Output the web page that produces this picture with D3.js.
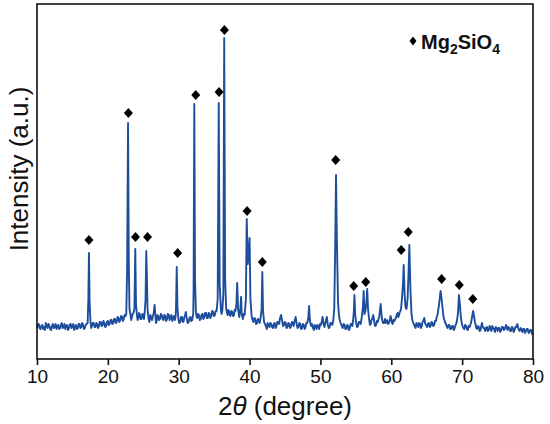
<!DOCTYPE html>
<html><head><meta charset="utf-8">
<script src="https://cdn.jsdelivr.net/npm/d3@7"></script>
<style>body{margin:0;background:#fff}svg{display:block}text{font-family:"Liberation Sans",Arial,sans-serif}</style>
</head><body><svg id="c" width="550" height="424"></svg>
<script>
// XRD pattern: [2theta (deg), intensity (a.u.)]
const pattern = [
[10.00,31],[10.12,34],[10.25,35],[10.37,31],[10.5,30],[10.62,33],[10.75,34],[10.87,30],[11.0,32],[11.12,29],[11.25,36],[11.37,33],[11.5,31],[11.62,35],[11.75,33],[11.87,30],[12.0,29],[12.12,33],[12.25,35],[12.37,31],[12.5,32],[12.62,35],[12.75,30],[12.87,33],[13.0,34],[13.12,30],[13.25,31],[13.37,34],[13.5,36],[13.62,31],[13.75,32],[13.87,35],[14.0,30],[14.12,33],[14.25,34],[14.37,29],[14.5,31],[14.62,34],[14.75,35],[14.87,31],[15.0,32],[15.12,35],[15.25,29],[15.37,32],[15.5,34],[15.62,30],[15.75,31],[15.87,35],[16.0,35],[16.12,31],[16.25,32],[16.37,36],[16.5,34],[16.62,30],[16.75,31],[16.87,34],[17.0,35],
[17.15,36],[17.25,60],[17.33,106],[17.42,58],[17.55,37],
[17.65,31],[17.75,33],[17.87,36],[18.0,36],[18.12,32],[18.25,32],[18.37,36],[18.5,35],[18.62,31],[18.75,33],[18.87,37],[19.0,37],[19.12,33],[19.25,34],[19.37,38],[19.5,36],[19.62,32],[19.75,33],[19.87,37],[20.0,38],[20.12,34],[20.25,35],[20.37,39],[20.5,39],[20.62,35],[20.75,36],[20.87,40],[21.0,40],[21.12,36],[21.25,37],[21.37,42],[21.5,41],[21.62,37],[21.75,39],[21.87,43],[22.0,42],[22.12,38],[22.25,40],[22.37,44],[22.5,43],
[22.6,45],[22.72,90],[22.85,236],[22.95,100],[23.05,50],[23.2,44],
[23.3,39],[23.4,42],[23.5,45],[23.6,46],
[23.75,50],[23.87,110],[23.97,55],[24.1,44],
[24.2,39],[24.3,41],[24.4,46],[24.5,45],[24.62,40],[24.75,40],[24.87,45],[25.0,44],[25.1,40],[25.2,47],
[25.32,60],[25.42,108],[25.5,85],[25.6,50],[25.75,40],
[25.87,37],[26.0,44],[26.12,41],[26.25,39],[26.35,43],[26.45,45],[26.6,54],[26.72,42],[26.8,36],[26.9,38],[27.0,44],[27.1,43],[27.22,39],[27.35,40],[27.47,45],[27.6,44],[27.72,40],[27.85,39],[27.97,44],[28.1,43],[28.22,38],[28.35,40],[28.47,45],[28.6,44],[28.72,39],[28.85,41],[28.97,44],[29.1,38],[29.22,41],[29.35,43],[29.45,39],[29.55,42],
[29.62,50],[29.72,92],[29.82,52],[29.95,40],
[30.07,36],[30.2,37],[30.32,42],[30.45,42],[30.57,37],[30.7,38],[30.8,42],[30.9,44],[31.0,47],[31.15,40],[31.27,36],[31.4,37],[31.52,41],[31.65,42],[31.77,38],[31.9,39],[32.05,45],
[32.1,70],[32.2,255],[32.3,80],[32.42,48],
[32.5,43],[32.6,41],[32.72,45],[32.85,44],[32.97,39],[33.1,40],[33.22,44],[33.35,45],[33.47,40],[33.6,42],[33.72,46],[33.85,46],[33.97,41],[34.1,41],[34.22,46],[34.35,45],[34.47,41],[34.6,43],[34.72,48],[34.85,47],[34.97,43],[35.1,44],[35.22,48],[35.35,48],
[35.5,60],[35.65,256],[35.78,75],[35.95,50],[36.05,45],[36.15,48],
[36.3,65],[36.42,321],[36.55,80],[36.7,50],
[36.8,47],[36.9,44],[37.0,49],[37.1,48],[37.2,44],[37.3,43],[37.42,48],[37.55,47],[37.67,43],[37.8,44],[37.9,49],[38.0,48],
[38.15,55],[38.25,76],[38.38,50],[38.55,42],
[38.7,50],[38.8,62],[38.9,45],[39.05,40],[39.17,45],[39.3,44],
[39.48,60],[39.6,140],[39.75,95],
[39.92,110],[40.0,121],[40.12,60],[40.3,42],
[40.42,39],[40.55,37],[40.67,41],[40.8,40],[40.92,35],[41.05,36],[41.17,40],[41.3,39],[41.42,36],[41.55,41],
[41.7,50],[41.8,87],[41.9,48],[42.05,37],
[42.17,35],[42.3,33],[42.42,30],[42.55,36],[42.67,34],[42.8,32],[42.92,36],[43.05,35],[43.17,32],[43.3,31],[43.42,35],[43.55,36],[43.67,31],[43.8,33],[43.92,37],[44.05,37],[44.17,35],[44.3,41],[44.45,44],[44.6,38],[44.72,33],[44.85,34],[44.97,37],[45.1,36],[45.22,31],[45.35,32],[45.47,36],[45.6,35],[45.72,31],[45.85,33],[45.97,37],[46.1,36],[46.22,33],[46.35,38],[46.5,42],[46.65,35],[46.77,31],[46.9,32],[47.02,36],[47.15,35],[47.27,30],[47.4,31],[47.52,35],[47.65,34],[47.77,30],[47.9,32],[48.02,36],[48.15,36],
[48.3,42],[48.4,53],[48.5,40],[48.6,35],[48.7,33],
[48.82,35],[48.95,31],[49.07,29],[49.2,34],[49.32,33],[49.45,30],[49.57,34],[49.7,33],[49.82,30],[49.95,35],[50.07,34],[50.2,38],[50.3,42],[50.45,35],[50.57,32],[50.7,36],[50.8,39],[50.9,42],[51.05,34],[51.17,31],[51.3,32],[51.42,36],[51.55,36],[51.67,34],[51.8,38],
[51.95,50],[52.08,110],[52.2,184],[52.32,120],[52.48,58],[52.6,45],[52.7,40],[52.8,37],[52.9,35],
[53.02,33],[53.15,31],[53.27,35],[53.4,34],[53.52,30],[53.65,30],[53.77,34],[53.9,33],[54.02,29],[54.15,31],[54.27,35],[54.4,35],[54.5,33],[54.6,38],
[54.72,48],[54.8,64],[54.9,45],[55.05,36],
[55.17,32],[55.3,33],[55.42,37],[55.55,37],[55.67,35],[55.8,40],
[56.0,52],[56.1,68],[56.22,45],[56.35,48],
[56.5,58],[56.6,70],[56.72,50],[56.9,38],
[57.0,34],[57.1,35],[57.2,39],[57.3,40],[57.45,44],[57.6,37],[57.72,33],[57.85,34],[57.97,38],[58.1,37],[58.2,40],[58.3,42],
[58.5,55],[58.65,42],[58.75,38],[58.85,36],
[58.97,36],[59.1,40],[59.2,36],[59.3,37],[59.42,39],[59.55,35],[59.67,36],[59.8,39],[59.9,43],[60.0,40],[60.1,36],[60.2,35],[60.32,39],[60.45,38],[60.57,40],[60.7,42],[60.8,45],[60.9,46],[61.0,42],[61.1,44],[61.2,47],[61.3,48],[61.4,52],[61.5,60],
[61.65,75],[61.75,94],[61.88,65],[62.0,52],[62.15,50],[62.3,60],
[62.45,90],[62.55,114],[62.7,70],[62.85,45],[62.95,40],[63.05,37],
[63.17,35],[63.3,33],[63.42,31],[63.55,36],[63.67,35],[63.8,32],[63.92,36],[64.05,35],[64.17,31],[64.3,33],[64.4,37],[64.5,38],[64.65,41],[64.8,35],[64.92,34],[65.05,32],[65.17,35],[65.3,36],[65.42,32],[65.55,33],[65.67,37],[65.8,36],[65.92,33],[66.05,34],[66.17,38],[66.3,38],[66.42,42],[66.55,45],[66.65,50],[66.75,55],
[66.95,68],[67.1,60],[67.25,50],[67.35,43],[67.45,40],[67.57,37],[67.7,35],
[67.82,33],[67.95,31],[68.07,34],[68.2,34],[68.32,30],[68.45,30],[68.57,33],[68.7,33],[68.82,29],[68.95,31],[69.07,34],[69.2,36],[69.3,40],[69.4,45],
[69.55,64],[69.68,55],[69.77,46],[69.85,40],[69.95,36],[70.05,33],
[70.17,31],[70.3,30],[70.42,34],[70.55,33],[70.67,30],[70.8,29],[70.92,33],[71.05,32],[71.15,34],[71.25,36],[71.4,42],
[71.55,48],[71.7,42],[71.8,37],[71.9,34],
[72.0,31],[72.1,30],[72.22,33],[72.35,32],[72.47,28],[72.6,29],[72.7,33],[72.8,36],[72.9,33],[73.0,31],[73.12,31],[73.25,28],[73.37,31],[73.5,32],[73.62,28],[73.75,29],[73.87,33],[74.0,31],[74.12,28],[74.25,33],[74.37,31],[74.5,30],[74.62,27],[74.75,32],[74.87,31],[75.0,28],[75.12,31],[75.25,31],[75.37,27],[75.5,29],[75.62,32],[75.75,32],[75.87,29],[76.0,30],[76.1,32],[76.2,34],[76.3,31],[76.4,29],[76.52,32],[76.65,31],[76.77,28],[76.9,28],[77.02,32],[77.15,31],[77.27,27],[77.4,29],[77.52,32],[77.65,32],[77.72,34],[77.8,35],[77.9,31],[78.0,29],[78.12,28],[78.25,31],[78.37,30],[78.5,27],[78.62,30],[78.75,30],[78.87,26],[79.0,28],[79.12,30],[79.25,30],[79.37,26],[79.5,27],[79.62,29],[79.75,29],[79.87,25],[80.0,26]
];
// Mg2SiO4 reflection markers: [2theta, marker height]
const markers = [
[17.33,119],[22.9,246],[23.9,122],[25.6,122],[29.85,106],[32.4,264],[35.7,267],[36.45,329],
[39.65,148],[41.8,97],[52.15,199],[54.7,73],[56.4,77],[61.4,109],[62.4,127],[67.1,80],[69.6,74],[71.5,60]
];
const xTicks = [10,20,30,40,50,60,70,80];
const xDomain = [10,80];
const yDomain = [0,355];

const W=550,H=424, m={l:37,t:4,r:17,b:65};
const svg=d3.select("#c");
const x=d3.scaleLinear().domain(xDomain).range([m.l,W-m.r]);
const y=d3.scaleLinear().domain(yDomain).range([H-m.b,m.t]);

svg.append("path").datum(pattern)
  .attr("fill","none").attr("stroke","#1d4e9e").attr("stroke-width",1.9).attr("stroke-linejoin","round")
  .attr("d",d3.line().x(d=>x(d[0])).y(d=>y(d[1])));

const diamond = "M0,-5L4.5,0L0,5L-4.5,0Z";
svg.append("g").selectAll("path").data(markers).join("path")
  .attr("d",diamond).attr("fill","#000")
  .attr("transform",d=>`translate(${x(d[0])},${y(d[1])})`);

// frame
svg.append("rect").attr("x",m.l).attr("y",m.t).attr("width",W-m.l-m.r).attr("height",H-m.t-m.b)
  .attr("fill","none").attr("stroke","#111").attr("stroke-width",1.6);

const ax=svg.append("g").attr("transform",`translate(0,${H-m.b})`)
  .call(d3.axisBottom(x).tickValues(xTicks).tickSize(6).tickPadding(5).tickFormat(d3.format("d")));
ax.select(".domain").remove();
ax.selectAll("line").attr("stroke","#111").attr("stroke-width",1.6);
ax.selectAll("text").attr("font-size",19).attr("fill","#111").attr("font-family","Liberation Sans, Arial, sans-serif");

const xt=svg.append("text").attr("x",285).attr("y",415).attr("text-anchor","middle").attr("font-size",26).attr("fill","#111");
xt.append("tspan").text("2");
xt.append("tspan").attr("font-style","italic").text("θ");
xt.append("tspan").text(" (degree)");

svg.append("text").attr("transform","translate(28,169) rotate(-90)").attr("text-anchor","middle")
  .attr("font-size",26).attr("fill","#111").text("Intensity (a.u.)");

// legend
svg.append("path").attr("d","M0,-4.5L3.5,0L0,4.5L-3.5,0Z").attr("fill","#000").attr("transform","translate(413,41)");
const lg=svg.append("text").attr("x",421).attr("y",49).attr("font-size",20).attr("font-weight","bold").attr("fill","#111");
lg.append("tspan").text("Mg");
lg.append("tspan").attr("font-size",14).attr("dy",5).text("2");
lg.append("tspan").attr("dy",-5).text("SiO");
lg.append("tspan").attr("font-size",14).attr("dy",5).text("4");
</script></body></html>
